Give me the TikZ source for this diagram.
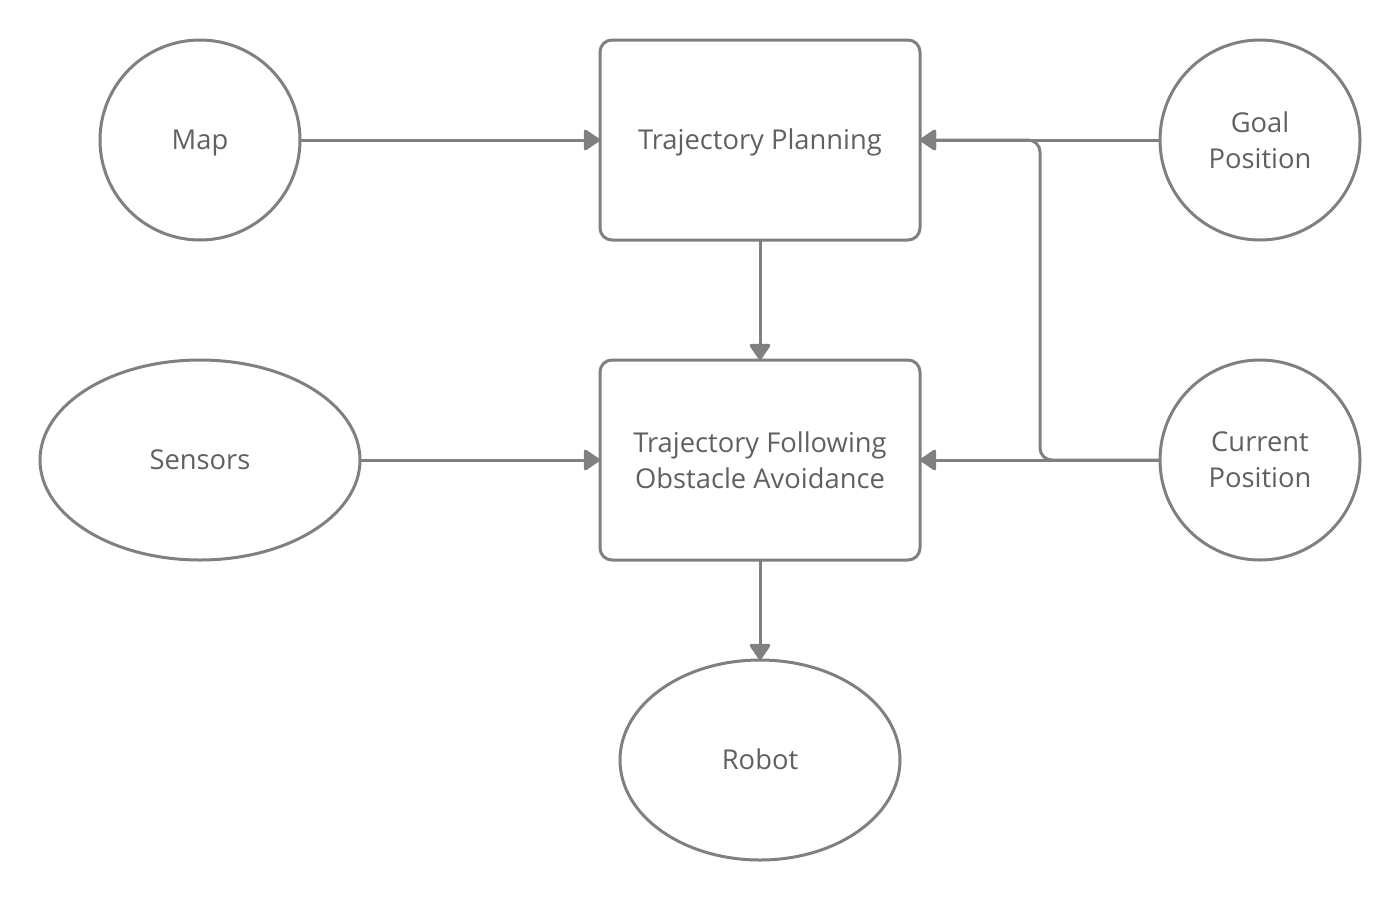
\documentclass[tikz,border=0pt]{standalone}
\usepackage{fontspec}
\setmainfont{Open Sans}
\usetikzlibrary{arrows.meta,shapes.geometric}
\definecolor{linegray}{HTML}{808080}
\definecolor{textgray}{HTML}{606060}
\tikzset{
  base/.style={draw=linegray, line width=2.25pt, inner sep=0pt, outer sep=0pt, text=textgray, align=center, font=\fontsize{20.5}{27}\selectfont},
  oneline/.style={text height=17pt, text depth=3.5pt},
  roundnode/.style={base, circle, minimum size=150pt},
  ovalnode/.style={base, ellipse, minimum height=150pt},
  boxnode/.style={base, rectangle, rounded corners=9pt, minimum width=240pt, minimum height=150pt},
  conn/.style={draw=linegray, line width=2.25pt, -{Triangle[length=13pt,width=17pt,round]}, line join=round},
}
\begin{document}
\begin{tikzpicture}[x=0.75pt,y=-0.75pt]
\useasboundingbox (0,0) rectangle (1400,900);
\node[roundnode, oneline] (map) at (200,140) {Map};
\node[boxnode, oneline] (tp) at (760,140) {Trajectory Planning};
\node[roundnode] (goal) at (1260,140) {Goal\\Position};
\node[ovalnode, oneline, minimum width=240pt] (sens) at (200,460) {Sensors};
\node[boxnode] (tf) at (760,460) {Trajectory Following\\Obstacle Avoidance};
\node[roundnode] (cur) at (1260,460) {Current\\Position};
\node[ovalnode, oneline, minimum width=210pt] (robot) at (760,760) {Robot};
\coordinate (jx) at (1040,300);
\draw[conn] (map) -- (tp);
\draw[conn] (goal) -- (tp);
\draw[conn, rounded corners=9pt] (cur.west) -| (jx |- tp.east) -- (tp.east);
\draw[conn] (cur) -- (tf);
\draw[conn] (sens) -- (tf);
\draw[conn] (tp) -- (tf);
\draw[conn] (tf) -- (robot);
\end{tikzpicture}
\end{document}
